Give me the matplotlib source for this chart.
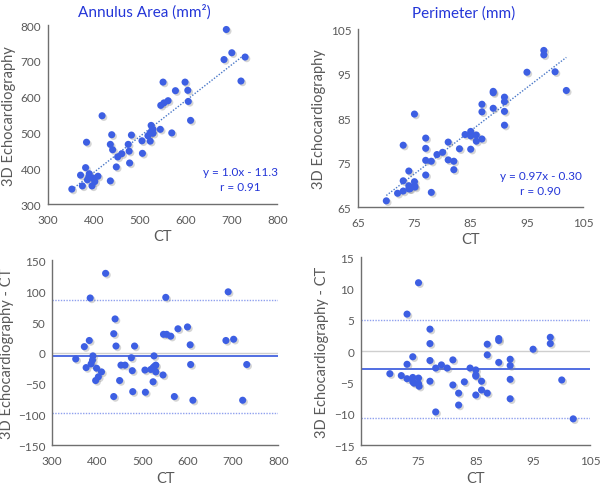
import matplotlib.pyplot as plt
import matplotlib.patheffects as pe

# Annulus area (mm^2): CT value and echo - CT difference
area_ct = [352, 371, 375, 382, 384, 386, 389, 390, 398, 396, 402, 409, 418, 436, 439,
           436, 441, 449, 452, 461, 475, 477, 478, 482, 505, 506, 518, 523, 523, 525,
           526, 529, 529, 545, 546, 551, 553, 562, 570, 578, 599, 605, 606, 611, 684,
           689, 701, 721, 730]
area_diff = [-10, 10, -24, 20, 89, -18, -12, -5, -25, -45, -39, -31, 129, 31, 55,
             -71, 11, -45, -20, -20, -8, -29, -63, 11, -28, -64, -27, -24, -47, -5,
             -22, -20, -31, -36, 30, 90, 30, 27, -71, 39, 42, 13, -19, -77, 20,
             99, 22, -77, -19]
area_echo = [c + d for c, d in zip(area_ct, area_diff)]
area_fit = (1.0, -11.3)
area_ba = (-5.4, 86.5, -98.0)  # mean, upper, lower limits

# Perimeter (mm)
perim_ct = [70, 72, 73, 73, 73, 74, 74, 74, 74.2, 75, 75, 75, 75.1, 77, 77, 77, 77,
            78, 78, 79, 80, 81, 81, 82, 82, 83, 84, 85, 85, 85, 85, 86, 86, 87, 87,
            87, 89, 89, 89, 91, 91, 91, 91, 95, 98, 98, 100, 102]
perim_diff = [-3.6, -3.9, -2.1, -4.4, 5.9, -0.9, -4.2, -4.9, -5.1, 10.9, -4.3, -5.2,
              -5.6, 3.5, 1.2, -1.5, -4.8, -9.7, -2.7, -2.2, -2.7, -1.4, -5.4, -6.7,
              -8.6, -4.9, -2.7, -3.0, -3.8, -4.0, -7.0, -4.8, -6.2, 1.1, -0.6, -6.7,
              2.0, 1.7, -1.8, -1.3, -2.3, -4.5, -7.6, 0.3, 2.2, 1.2, -4.6, -10.8]
perim_echo = [c + d for c, d in zip(perim_ct, perim_diff)]
perim_fit = (0.97, -0.30)
perim_ba = (-2.8, 5.0, -10.7)

DOT = "#3d5fe3"
TXT = "#595959"
TITLE = "#2436d8"

plt.rcParams["font.family"] = ["Lato", "DejaVu Sans"]

fig = plt.figure(figsize=(6, 4.85), dpi=100)
ax_tl = fig.add_axes([0.080, 0.577, 0.382, 0.369])
ax_tr = fig.add_axes([0.597, 0.571, 0.375, 0.367])
ax_bl = fig.add_axes([0.087, 0.080, 0.377, 0.381])
ax_br = fig.add_axes([0.602, 0.080, 0.382, 0.388])

shadow = [pe.SimplePatchShadow(offset=(1.2, -1.2), shadow_rgbFace="#888888", alpha=0.35),
          pe.Normal()]


def style(ax, xlim, xticks, ylim, yticks, ylabel, xpad=3):
    ax.set_xlim(*xlim)
    ax.set_ylim(*ylim)
    ax.set_xticks(xticks)
    ax.set_yticks(yticks)
    for side in ("top", "right"):
        ax.spines[side].set_visible(False)
    for side in ("left", "bottom"):
        ax.spines[side].set_color("#6f6f6f")
        ax.spines[side].set_linewidth(1.0)
    ax.tick_params(length=0, labelsize=8.5, colors=TXT, pad=5)
    ax.tick_params(axis="x", pad=7)
    ax.set_xlabel("CT", fontsize=10.5, color=TXT, labelpad=xpad)
    ax.set_ylabel(ylabel, fontsize=10.5, color=TXT, labelpad=3)


def dots(ax, x, y):
    sc = ax.scatter(x, y, s=26, color=DOT, edgecolor="none", zorder=3, clip_on=False)
    sc.set_path_effects(shadow)


# top left: annulus area correlation
dots(ax_tl, area_ct, area_echo)
x0, x1 = min(area_ct), max(area_ct)
ax_tl.plot([x0, x1], [area_fit[0] * x0 + area_fit[1], area_fit[0] * x1 + area_fit[1]],
           ls=(0, (1, 1.2)), color="#4a78c8", lw=1.0, zorder=2)
style(ax_tl, (300, 800), range(300, 801, 100), (300, 800), range(300, 801, 100),
      "3D Echocardiography", xpad=3)
ax_tl.text(0.84, 0.14, "y = 1.0x - 11.3\nr = 0.91", transform=ax_tl.transAxes,
           ha="center", va="center", fontsize=8.5, color=TITLE, linespacing=1.4)
ax_tl.set_title("Annulus Area (mm²)", fontsize=11, color=TITLE, pad=7, x=0.42)

# top right: perimeter correlation
dots(ax_tr, perim_ct, perim_echo)
x0, x1 = min(perim_ct), max(perim_ct)
ax_tr.plot([x0, x1], [perim_fit[0] * x0 + perim_fit[1], perim_fit[0] * x1 + perim_fit[1]],
           ls=(0, (1, 1.2)), color="#4a78c8", lw=1.0, zorder=2)
style(ax_tr, (65, 105), range(65, 106, 10), (65, 105), range(65, 106, 10),
      "3D Echocardiography", xpad=3)
ax_tr.text(0.81, 0.135, "y = 0.97x - 0.30\nr = 0.90", transform=ax_tr.transAxes,
           ha="center", va="center", fontsize=8.5, color=TITLE, linespacing=1.4)
ax_tr.set_title("Perimeter (mm)", fontsize=11, color=TITLE, pad=9, x=0.47)


def bland_altman(ax, x, d, lines):
    mean, hi, lo = lines
    ax.axhline(0, color="#cfcfcf", lw=1.0, zorder=1)
    ax.axhline(mean, color="#3355dd", lw=1.2, zorder=2)
    ax.axhline(hi, color="#8fa0ee", lw=1.0, ls=(0, (1, 1)), zorder=2)
    ax.axhline(lo, color="#8fa0ee", lw=1.0, ls=(0, (1, 1)), zorder=2)
    dots(ax, x, d)


bland_altman(ax_bl, area_ct, area_diff, area_ba)
style(ax_bl, (300, 800), range(300, 801, 100), (-150, 150), range(-150, 151, 50),
      "3D Echocardiography - CT", xpad=4)

bland_altman(ax_br, perim_ct, perim_diff, perim_ba)
style(ax_br, (65, 105), range(65, 106, 10), (-15, 15), range(-15, 16, 5),
      "3D Echocardiography - CT", xpad=4)

fig.savefig("out.png", dpi=100)
